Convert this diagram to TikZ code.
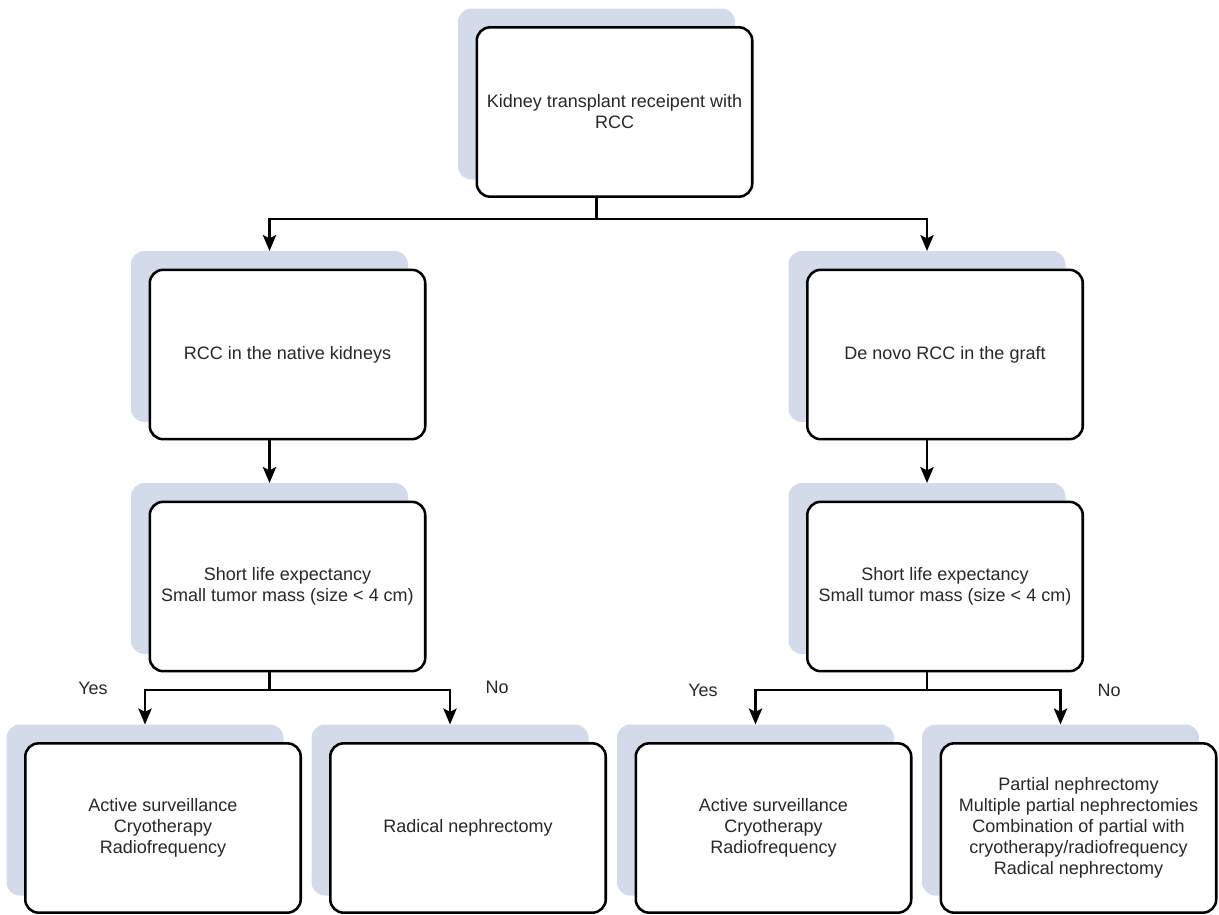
\documentclass[tikz,border=0pt]{standalone}
\usepackage{fontspec}
\setmainfont{Liberation Sans}
\usetikzlibrary{arrows.meta}
\definecolor{shadowblue}{RGB}{211,219,234}
\definecolor{txtgray}{RGB}{40,40,40}
\begin{document}
\begin{tikzpicture}[x=0.75pt,y=-0.75pt,
  shadebox/.style={fill=shadowblue, draw=none, rounded corners=10pt, minimum width=207.75pt, minimum height=128.25pt, inner sep=0pt, outer sep=0pt},
  mainbox/.style={draw=black, line width=1.9pt, fill=white, rounded corners=10pt, minimum width=206.6pt, minimum height=127pt, inner sep=0pt, outer sep=0pt, align=center, text=txtgray, font=\fontsize{13.5}{15.75}\selectfont},
  link/.style={line width=1.7pt, draw=black},
  arrowlink/.style={link, -{Stealth[length=12pt,width=10pt,inset=2.5pt]}},
  lbl/.style={font=\fontsize{13.5}{16}\selectfont, text=txtgray, inner sep=0pt}
]
\useasboundingbox (0,0) rectangle (1219,914);

% shadows
\node[shadebox] (s0) at (596.5,94) {};
\node[shadebox] (s1) at (269.5,336.5) {};
\node[shadebox] (s2) at (927,336.5) {};
\node[shadebox] (s3) at (269.5,568.5) {};
\node[shadebox] (s4) at (927,568.5) {};
\node[shadebox] (s5) at (145,810) {};
\node[shadebox] (s6) at (450,810) {};
\node[shadebox] (s7) at (755.5,810) {};
\node[shadebox] (s8) at (1060.5,810) {};

% boxes
\node[mainbox] (b0) at (614.5,112) {Kidney transplant receipent with\\RCC};
\node[mainbox] (b1) at (287.5,354.5) {RCC in the native kidneys};
\node[mainbox] (b2) at (945,354.5) {De novo RCC in the graft};
\node[mainbox] (b3) at (287.5,586.5) {Short life expectancy\\Small tumor mass (size < 4 cm)};
\node[mainbox] (b4) at (945,586.5) {Short life expectancy\\Small tumor mass (size < 4 cm)};
\node[mainbox] (b5) at (163,828) {Active surveillance\\Cryotherapy\\Radiofrequency};
\node[mainbox] (b6) at (468,828) {Radical nephrectomy};
\node[mainbox] (b7) at (773.5,828) {Active surveillance\\Cryotherapy\\Radiofrequency};
\node[mainbox] (b8) at (1078.5,828) {Partial nephrectomy\\Multiple partial nephrectomies\\Combination of partial with\\cryotherapy/radiofrequency\\Radical nephrectomy};

% junctions
\coordinate (j0) at (596.5,219);
\coordinate (j1) at (269.5,690);
\coordinate (j2) at (927,690);

% connectors
\draw[link] (s0.center |- b0.south) -- (j0);
\draw[arrowlink] (j0) -| (s1.north);
\draw[arrowlink] (j0) -| (s2.north);
\draw[arrowlink] (s1.center |- b1.south) -- (s3.north);
\draw[arrowlink] (s2.center |- b2.south) -- (s4.north);
\draw[link] (s3.center |- b3.south) -- (j1);
\draw[arrowlink] (j1) -| (s5.north);
\draw[arrowlink] (j1) -| (s6.north);
\draw[link] (s4.center |- b4.south) -- (j2);
\draw[arrowlink] (j2) -| (s7.north);
\draw[arrowlink] (j2) -| (s8.north);

% labels
\node[lbl] (yes1) at (93,688) {Yes};
\node[lbl] (no1) at (497,687) {No};
\node[lbl] (yes2) at (703,690) {Yes};
\node[lbl] (no2) at (1109,690) {No};
\end{tikzpicture}
\end{document}
